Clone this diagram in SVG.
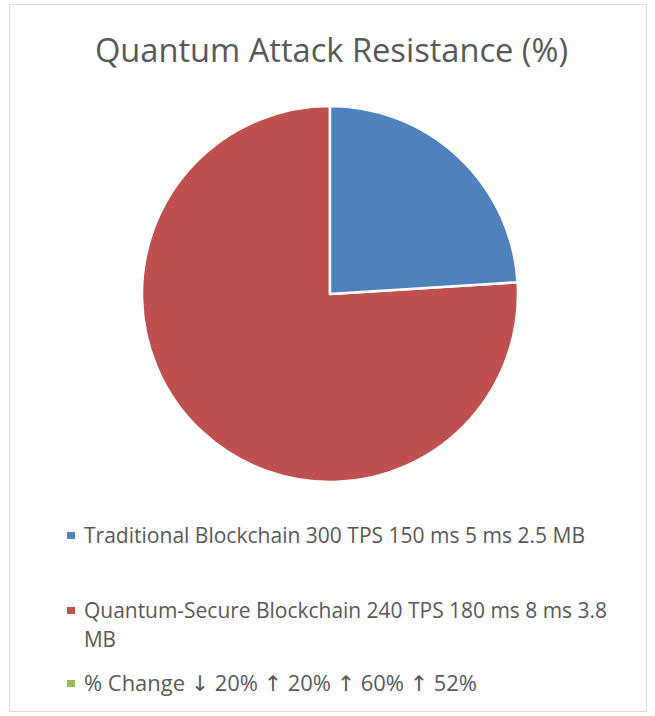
<svg xmlns="http://www.w3.org/2000/svg" width="655" height="716" viewBox="0 0 655 716">
<style>
.t{font-family:"Open Sans","Noto Sans",sans-serif;fill:#595959}
.title{font-size:33px}
.leg{font-size:21.5px}
.ar{font-family:"DejaVu Sans",sans-serif}
.slice{stroke:#fff;stroke-width:2.5;stroke-linejoin:round}
</style>
<rect x="9.5" y="4.5" width="637" height="707" fill="#fff" stroke="#d9d9d9" stroke-width="1"/>
<text class="t title" x="331.5" y="62" text-anchor="middle" textLength="473" lengthAdjust="spacingAndGlyphs">Quantum Attack Resistance (%)</text>
<g id="pie">
<g id="slice-quantum"><path class="slice" fill="#C0504D" d="M330,294 L517.6,282.2 A188,188 0 1 1 330,106 Z"/></g>
<g id="slice-traditional"><path class="slice" fill="#4F81BD" d="M330,294 L330,106 A188,188 0 0 1 517.6,282.2 Z"/></g>
</g>
<g id="connectors"></g>
<g id="legend">
<g id="leg-traditional"><rect x="67" y="532" width="8" height="7" fill="#4F81BD"/><text class="t leg" x="84" y="543" textLength="501" lengthAdjust="spacingAndGlyphs">Traditional Blockchain 300 TPS 150 ms 5 ms 2.5 MB</text></g>
<g id="leg-quantum"><rect x="67" y="607" width="8" height="7" fill="#C0504D"/><text class="t leg" x="84" y="618" textLength="523" lengthAdjust="spacingAndGlyphs">Quantum-Secure Blockchain 240 TPS 180 ms 8 ms 3.8</text><text class="t leg" x="84" y="647" textLength="32" lengthAdjust="spacingAndGlyphs">MB</text></g>
<g id="leg-change"><rect x="67" y="680" width="8" height="7" fill="#9BBB59"/><text class="t leg" x="84" y="691" textLength="393" lengthAdjust="spacingAndGlyphs">% Change <tspan class="ar">↓</tspan> 20% <tspan class="ar">↑</tspan> 20% <tspan class="ar">↑</tspan> 60% <tspan class="ar">↑</tspan> 52%</text></g>
</g>
</svg>
